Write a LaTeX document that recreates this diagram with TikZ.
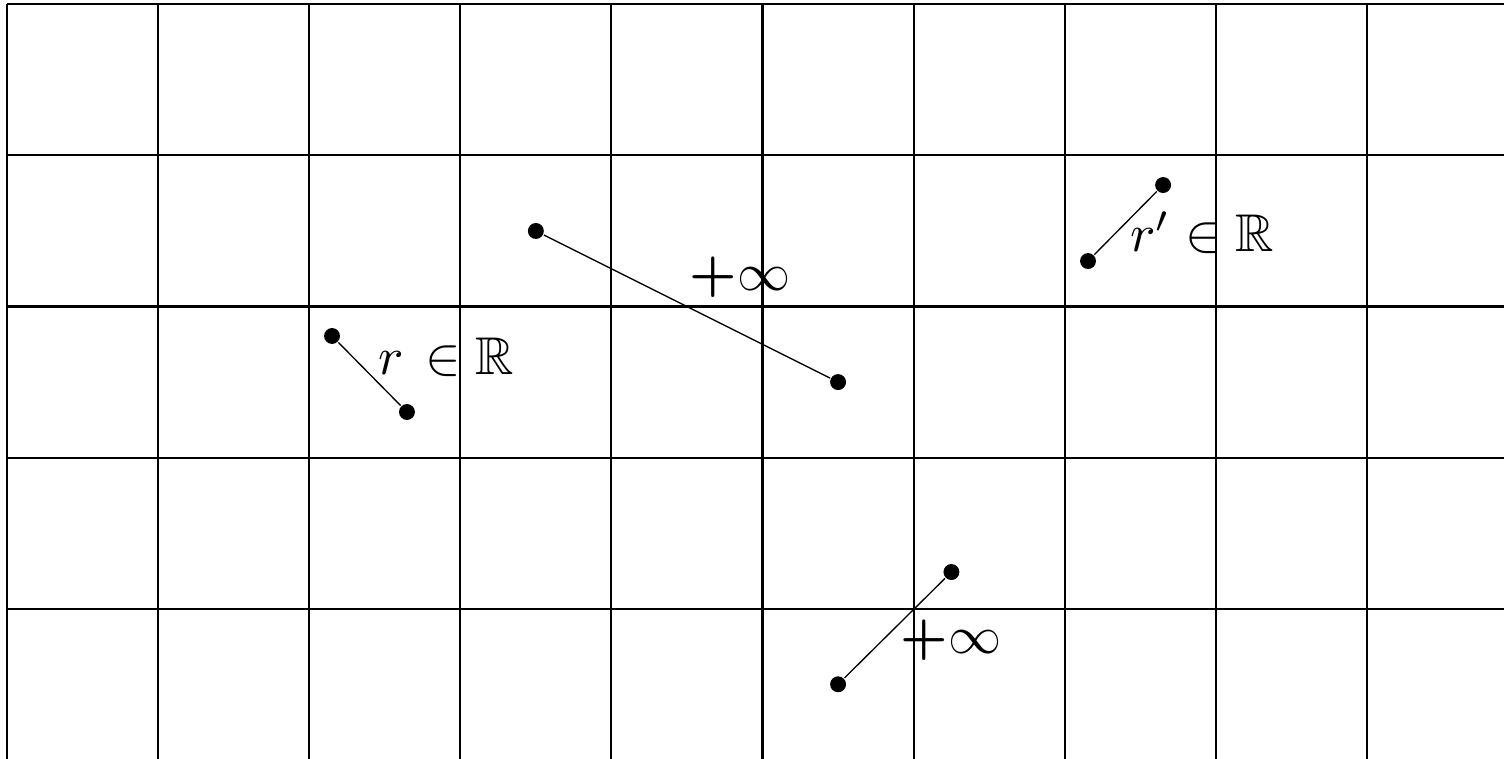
\documentclass[tikz,border=0pt]{standalone}
\usepackage{amssymb}
\begin{document}
\begin{tikzpicture}[
  dot/.style={circle,fill=black,inner sep=0pt,minimum size=3pt},
  seg/.style={line width=0.25pt},
  lbl/.style={anchor=base west,inner sep=0pt}
]
\clip (-0.0463,0.0285) rectangle (9.907,-4.988);
\draw[line width=0.4pt] (0,0) grid (10,-6);
% segment r
\node[dot] (a1) at (2.151,-2.195) {};
\node[dot] (a2) at (2.647,-2.698) {};
\draw[seg] (a1) -- (a2);
\node[lbl] (la) at (2.45,-2.453) {$r\mkern2.5mu\in\mathbb{R}$};
% long segment +infty
\node[dot] (b1) at (3.5,-1.5) {};
\node[dot] (b2) at (5.5,-2.5) {};
\draw[seg] (b1) -- (b2);
\node[lbl] (lb) at (4.512,-1.897) {$\mbox{\bfseries +}\infty$};
% segment r'
\node[dot] (c1) at (7.154,-1.699) {};
\node[dot] (c2) at (7.651,-1.196) {};
\draw[seg] (c1) -- (c2);
\node[lbl] (lc) at (7.425,-1.639) {$r'\in\mathbb{R}$};
% bottom segment +infty
\node[dot] (d1) at (5.5,-4.5) {};
\node[dot] (d2) at (6.25,-3.757) {};
\draw[seg] (d1) -- (d2);
\node[lbl] (ld) at (5.908,-4.293) {$\mbox{\bfseries +}\infty$};
\end{tikzpicture}
\end{document}
